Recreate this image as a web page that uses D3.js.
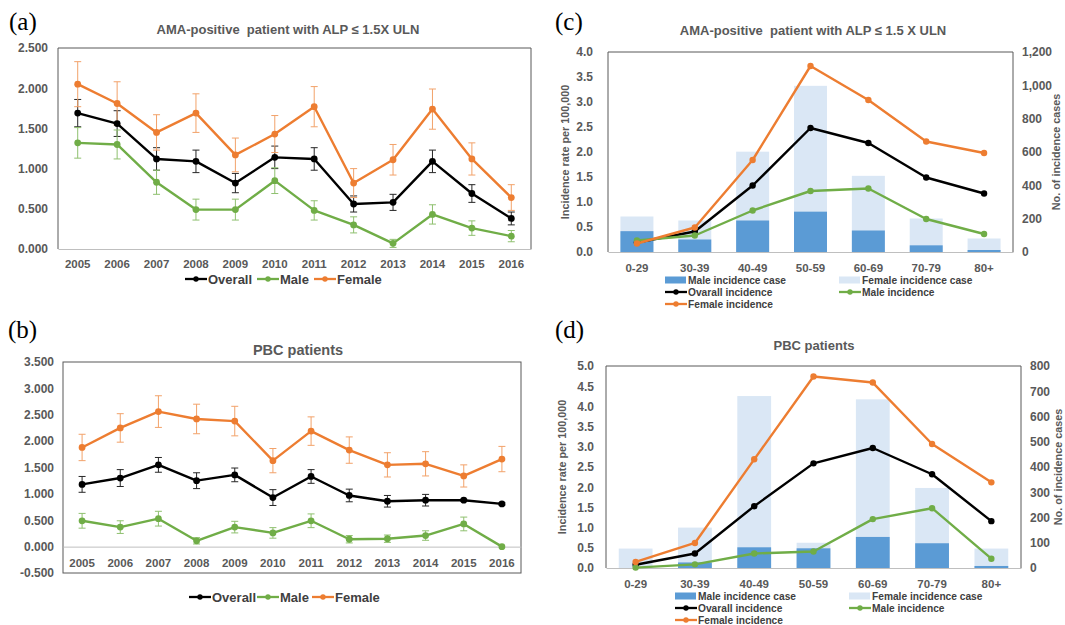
<!DOCTYPE html>
<html lang="en">
<head>
<meta charset="utf-8">
<title>AMA-positive and PBC incidence</title>
<script src="https://cdn.jsdelivr.net/npm/d3@7"></script>
<style>
  body { margin: 0; background: #fff; }
  svg text { font-family: "Liberation Sans", Arial, sans-serif; }
  .tick text { font-weight: bold; fill: #595959; }
  .panel-label { font-family: "Liberation Serif", "Times New Roman", serif; font-size: 25px; fill: #000; }
  .title { font-weight: bold; fill: #595959; white-space: pre; }
  .legend text { font-weight: bold; fill: #404040; }
  .axis-title { font-weight: bold; fill: #595959; font-size: 10.8px; }
</style>
</head>
<body>
<svg id="chart" width="1065" height="625"></svg>
<script>

// years for the trend panels
var years = [2005, 2006, 2007, 2008, 2009, 2010, 2011, 2012, 2013, 2014, 2015, 2016];

// (a) AMA-positive, ALP <= 1.5X ULN, by year
var aOverall    = [1.69, 1.56, 1.12, 1.09, 0.82, 1.14, 1.12, 0.56, 0.58, 1.09, 0.69, 0.38];
var aOverallErr = [0.17, 0.16, 0.14, 0.14, 0.12, 0.14, 0.14, 0.10, 0.10, 0.14, 0.11, 0.08];
var aMale       = [1.32, 1.30, 0.83, 0.49, 0.49, 0.85, 0.48, 0.30, 0.07, 0.43, 0.26, 0.16];
var aMaleErr    = [0.19, 0.18, 0.15, 0.13, 0.13, 0.16, 0.12, 0.10, 0.05, 0.12, 0.09, 0.07];
var aFemale     = [2.05, 1.81, 1.45, 1.69, 1.17, 1.43, 1.77, 0.82, 1.11, 1.74, 1.12, 0.64];
var aFemaleErr  = [0.28, 0.27, 0.22, 0.24, 0.21, 0.23, 0.25, 0.18, 0.19, 0.25, 0.20, 0.16];

// (b) PBC patients, by year
var bOverall    = [1.18, 1.30, 1.55, 1.25, 1.36, 0.93, 1.33, 0.97, 0.86, 0.88, 0.88, 0.81];
var bOverallErr = [0.15, 0.16, 0.14, 0.15, 0.13, 0.15, 0.13, 0.12, 0.11, 0.11, 0.02, 0.02];
var bMale       = [0.49, 0.37, 0.53, 0.11, 0.37, 0.26, 0.49, 0.14, 0.15, 0.21, 0.43, 0.00];
var bMaleErr    = [0.14, 0.12, 0.14, 0.06, 0.11, 0.10, 0.13, 0.07, 0.07, 0.09, 0.13, 0.01];
var bFemale     = [1.88, 2.25, 2.56, 2.42, 2.38, 1.63, 2.19, 1.83, 1.55, 1.57, 1.34, 1.66];
var bFemaleErr  = [0.25, 0.27, 0.30, 0.28, 0.28, 0.23, 0.27, 0.25, 0.23, 0.23, 0.21, 0.24];

// age groups for the incidence panels
var ageGroups = ["0-29", "30-39", "40-49", "50-59", "60-69", "70-79", "80+"];

// (c) AMA-positive, by age: cases (right axis) and rates (left axis)
var cMaleCases   = [125, 75, 189, 242, 129, 40, 12];
var cFemaleCases = [213, 189, 602, 997, 457, 201, 81];
var cOverall     = [0.19, 0.41, 1.33, 2.48, 2.18, 1.49, 1.17];
var cMale        = [0.23, 0.33, 0.83, 1.22, 1.27, 0.66, 0.36];
var cFemale      = [0.17, 0.49, 1.84, 3.72, 3.04, 2.21, 1.98];

// (d) PBC patients, by age
var dMaleCases   = [0, 22, 82, 78, 123, 98, 8];
var dFemaleCases = [77, 160, 681, 100, 668, 317, 77];
var dOverall     = [0.08, 0.36, 1.53, 2.59, 2.97, 2.32, 1.16];
var dMale        = [0.01, 0.09, 0.36, 0.41, 1.21, 1.48, 0.23];
var dFemale      = [0.15, 0.62, 2.69, 4.74, 4.59, 3.07, 2.12];

var colOverall = "#000000", colMale = "#70ad47", colFemale = "#ed7d31";
var colMaleBar = "#5b9bd5", colFemaleBar = "#dae7f5";
var frameCol = "#595959", axisCol = "#bfbfbf";

var svg = d3.select("#chart");

function lineLegendItem(g, x, y, color, label, fs) {
	g.append("line").attr("x1", x).attr("x2", x + 22).attr("y1", y).attr("y2", y)
		.attr("stroke", color).attr("stroke-width", 2.3);
	g.append("circle").attr("cx", x + 11).attr("cy", y).attr("r", 2.7).attr("fill", color);
	g.append("text").attr("x", x + 23).attr("y", y).attr("dy", "0.35em")
		.style("font-size", fs + "px").text(label);
}

function barLegendItem(g, x, y, color, label, fs) {
	g.append("rect").attr("x", x).attr("y", y - 3.5).attr("width", 21).attr("height", 7).attr("fill", color);
	g.append("text").attr("x", x + 23).attr("y", y).attr("dy", "0.35em")
		.style("font-size", fs + "px").text(label);
}

//Trend panels (a) and (b)
function drawTrend(p) {
	var g = svg.append("g");

	var x = d3.scaleBand().domain(years).range([p.left, p.right]);
	var y = d3.scaleLinear().domain(p.domain).range([p.bottom, p.top]);
	var cx = function(i) { return x(years[i]) + x.bandwidth() / 2; };

	// plot area frame
	if (p.fullFrame) {
		g.append("rect").attr("x", p.left).attr("y", p.top)
			.attr("width", p.right - p.left).attr("height", p.bottom - p.top)
			.attr("fill", "none").attr("stroke", frameCol).attr("stroke-width", 1);
	} else {
		g.append("path")
			.attr("d", "M" + p.left + "," + p.bottom + "V" + p.top + "H" + p.right + "V" + p.bottom)
			.attr("fill", "none").attr("stroke", frameCol).attr("stroke-width", 1);
	}

	// y axis
	g.append("g").attr("transform", "translate(" + p.left + ",0)")
		.call(d3.axisLeft(y).tickValues(d3.range(p.domain[0], p.domain[1] + 0.01, 0.5))
			.tickFormat(function(d) { return d.toFixed(3); })
			.tickSize(0).tickPadding(p.yPad))
		.call(function(s) { s.select(".domain").remove(); })
		.selectAll("text").style("font-size", "12px");

	// x axis on the zero line
	g.append("g").attr("transform", "translate(0," + y(0) + ")")
		.call(d3.axisBottom(x).tickSize(0).tickPadding(p.xPad))
		.call(function(s) { s.select(".domain").attr("stroke", axisCol).attr("stroke-width", 1); })
		.selectAll("text").style("font-size", "11.5px");

	var series = [
		{ values: p.overall, err: p.overallErr, color: colOverall, errColor: "#262626" },
		{ values: p.male,    err: p.maleErr,    color: colMale,    errColor: "#8fc06f" },
		{ values: p.female,  err: p.femaleErr,  color: colFemale,  errColor: "#f2a26a" }
	];

	series.forEach(function(s) {
		var eg = g.append("g").attr("stroke", s.errColor).attr("stroke-width", 1);
		s.values.forEach(function(v, i) {
			var e = s.err[i];
			if (e < 0.015) return;
			eg.append("line").attr("x1", cx(i)).attr("x2", cx(i)).attr("y1", y(v - e)).attr("y2", y(v + e));
			eg.append("line").attr("x1", cx(i) - 3.5).attr("x2", cx(i) + 3.5).attr("y1", y(v + e)).attr("y2", y(v + e));
			eg.append("line").attr("x1", cx(i) - 3.5).attr("x2", cx(i) + 3.5).attr("y1", y(v - e)).attr("y2", y(v - e));
		});
	});

	series.forEach(function(s) {
		g.append("path").datum(s.values)
			.attr("d", d3.line().x(function(d, i) { return cx(i); }).y(function(d) { return y(d); }))
			.attr("fill", "none").attr("stroke", s.color).attr("stroke-width", 2.4)
			.attr("stroke-linejoin", "round");
		g.selectAll(null).data(s.values).enter().append("circle")
			.attr("cx", function(d, i) { return cx(i); })
			.attr("cy", function(d) { return y(d); })
			.attr("r", 3.4).attr("fill", s.color);
	});

	g.append("text").attr("class", "title").attr("x", p.titleX).attr("y", p.titleY)
		.attr("text-anchor", "middle").style("font-size", p.titleSize + "px").text(p.title);

	g.append("text").attr("class", "panel-label").attr("x", p.labelX).attr("y", p.labelY).text(p.label);

	var lg = g.append("g").attr("class", "legend");
	lineLegendItem(lg, p.legendX[0], p.legendY, colOverall, "Overall", 13);
	lineLegendItem(lg, p.legendX[1], p.legendY, colMale, "Male", 13);
	lineLegendItem(lg, p.legendX[2], p.legendY, colFemale, "Female", 13);
}

//Age panels (c) and (d)
function drawAge(p) {
	var g = svg.append("g");

	var x = d3.scaleBand().domain(ageGroups).range([p.left, p.right]);
	var xb = d3.scaleBand().domain(ageGroups).range([p.left, p.right]).paddingInner(0.43).paddingOuter(0.215);
	var y = d3.scaleLinear().domain([0, p.rateMax]).range([p.bottom, p.top]);
	var y2 = d3.scaleLinear().domain([0, p.caseMax]).range([p.bottom, p.top]);
	var cx = function(i) { return x(ageGroups[i]) + x.bandwidth() / 2; };

	// bars: female cases behind, male cases in front
	g.selectAll(null).data(p.femaleCases).enter().append("rect")
		.attr("x", function(d, i) { return xb(ageGroups[i]); })
		.attr("width", xb.bandwidth())
		.attr("y", function(d) { return y2(d); })
		.attr("height", function(d) { return y2(0) - y2(d); })
		.attr("fill", colFemaleBar);
	g.selectAll(null).data(p.maleCases).enter().append("rect")
		.attr("x", function(d, i) { return xb(ageGroups[i]); })
		.attr("width", xb.bandwidth())
		.attr("y", function(d) { return y2(d); })
		.attr("height", function(d) { return y2(0) - y2(d); })
		.attr("fill", colMaleBar);

	// frame
	g.append("path")
		.attr("d", "M" + p.left + "," + p.bottom + "V" + p.top + "H" + p.right + "V" + p.bottom)
		.attr("fill", "none").attr("stroke", frameCol).attr("stroke-width", 1);

	g.append("g").attr("transform", "translate(" + p.left + ",0)")
		.call(d3.axisLeft(y).tickValues(d3.range(0, p.rateMax + 0.01, 0.5))
			.tickFormat(d3.format(".1f")).tickSize(0).tickPadding(p.yPad))
		.call(function(s) { s.select(".domain").remove(); })
		.selectAll("text").style("font-size", "12px");

	g.append("g").attr("transform", "translate(" + p.right + ",0)")
		.call(d3.axisRight(y2).tickValues(d3.range(0, p.caseMax + 1, p.caseStep))
			.tickFormat(d3.format(",")).tickSize(0).tickPadding(p.y2Pad))
		.call(function(s) { s.select(".domain").remove(); })
		.selectAll("text").style("font-size", "12px");

	g.append("g").attr("transform", "translate(0," + p.bottom + ")")
		.call(d3.axisBottom(x).tickSize(0).tickPadding(p.xPad))
		.call(function(s) { s.select(".domain").attr("stroke", axisCol).attr("stroke-width", 1); })
		.selectAll("text").style("font-size", "11.5px");

	var series = [
		{ values: p.overall, color: colOverall },
		{ values: p.male,    color: colMale },
		{ values: p.female,  color: colFemale }
	];
	series.forEach(function(s) {
		g.append("path").datum(s.values)
			.attr("d", d3.line().x(function(d, i) { return cx(i); }).y(function(d) { return y(d); }))
			.attr("fill", "none").attr("stroke", s.color).attr("stroke-width", 2.4)
			.attr("stroke-linejoin", "round");
		g.selectAll(null).data(s.values).enter().append("circle")
			.attr("cx", function(d, i) { return cx(i); })
			.attr("cy", function(d) { return y(d); })
			.attr("r", 3.2).attr("fill", s.color);
	});

	var midY = (p.top + p.bottom) / 2;
	g.append("text").attr("class", "axis-title")
		.attr("transform", "translate(" + p.leftTitleX + "," + midY + ") rotate(-90)")
		.attr("text-anchor", "middle").attr("dy", "0.35em").text("Incidence rate per 100,000");
	g.append("text").attr("class", "axis-title")
		.attr("transform", "translate(" + p.rightTitleX + "," + midY + ") rotate(-90)")
		.attr("text-anchor", "middle").attr("dy", "0.35em").text("No. of incidence cases");

	g.append("text").attr("class", "title").attr("x", p.titleX).attr("y", p.titleY)
		.attr("text-anchor", "middle").style("font-size", p.titleSize + "px").text(p.title);

	g.append("text").attr("class", "panel-label").attr("x", p.labelX).attr("y", p.labelY).text(p.label);

	var lg = g.append("g").attr("class", "legend");
	barLegendItem(lg, p.legendX[0], p.legendY[0], colMaleBar, "Male incidence case", 10.2);
	barLegendItem(lg, p.legendX[1], p.legendY[0], colFemaleBar, "Female incidence case", 10.2);
	lineLegendItem(lg, p.legendX[0], p.legendY[1], colOverall, "Ovarall incidence", 10.2);
	lineLegendItem(lg, p.legendX[1], p.legendY[1], colMale, "Male incidence", 10.2);
	lineLegendItem(lg, p.legendX[0], p.legendY[2], colFemale, "Female incidence", 10.2);
}

drawTrend({
	left: 58, right: 531, top: 48, bottom: 249, domain: [0, 2.5], fullFrame: false,
	yPad: 10, xPad: 11,
	overall: aOverall, overallErr: aOverallErr, male: aMale, maleErr: aMaleErr,
	female: aFemale, femaleErr: aFemaleErr,
	title: "AMA-positive  patient with ALP \u2264 1.5X ULN", titleX: 288, titleY: 34, titleSize: 13,
	label: "(a)", labelX: 9, labelY: 30,
	legendX: [185, 257, 314], legendY: 279
});

drawTrend({
	left: 63, right: 521, top: 362, bottom: 573, domain: [-0.5, 3.5], fullFrame: true,
	yPad: 9, xPad: 12,
	overall: bOverall, overallErr: bOverallErr, male: bMale, maleErr: bMaleErr,
	female: bFemale, femaleErr: bFemaleErr,
	title: "PBC patients", titleX: 298, titleY: 355, titleSize: 14.5,
	label: "(b)", labelX: 8, labelY: 338,
	legendX: [189, 257, 312], legendY: 597
});

drawAge({
	left: 608, right: 1013, top: 52, bottom: 252, rateMax: 4, caseMax: 1200, caseStep: 200,
	yPad: 15, y2Pad: 9, xPad: 12,
	maleCases: cMaleCases, femaleCases: cFemaleCases,
	overall: cOverall, male: cMale, female: cFemale,
	leftTitleX: 565, rightTitleX: 1056,
	title: "AMA-positive  patient with ALP \u2264 1.5 X ULN", titleX: 813, titleY: 35, titleSize: 13,
	label: "(c)", labelX: 555, labelY: 30,
	legendX: [665, 839], legendY: [280, 292, 304]
});

drawAge({
	left: 606, right: 1021, top: 366, bottom: 568, rateMax: 5, caseMax: 800, caseStep: 100,
	yPad: 12, y2Pad: 9, xPad: 12,
	maleCases: dMaleCases, femaleCases: dFemaleCases,
	overall: dOverall, male: dMale, female: dFemale,
	leftTitleX: 562, rightTitleX: 1058,
	title: "PBC patients", titleX: 814, titleY: 350, titleSize: 13,
	label: "(d)", labelX: 555, labelY: 338,
	legendX: [675, 849], legendY: [596, 608, 620]
});

</script>
</body>
</html>
